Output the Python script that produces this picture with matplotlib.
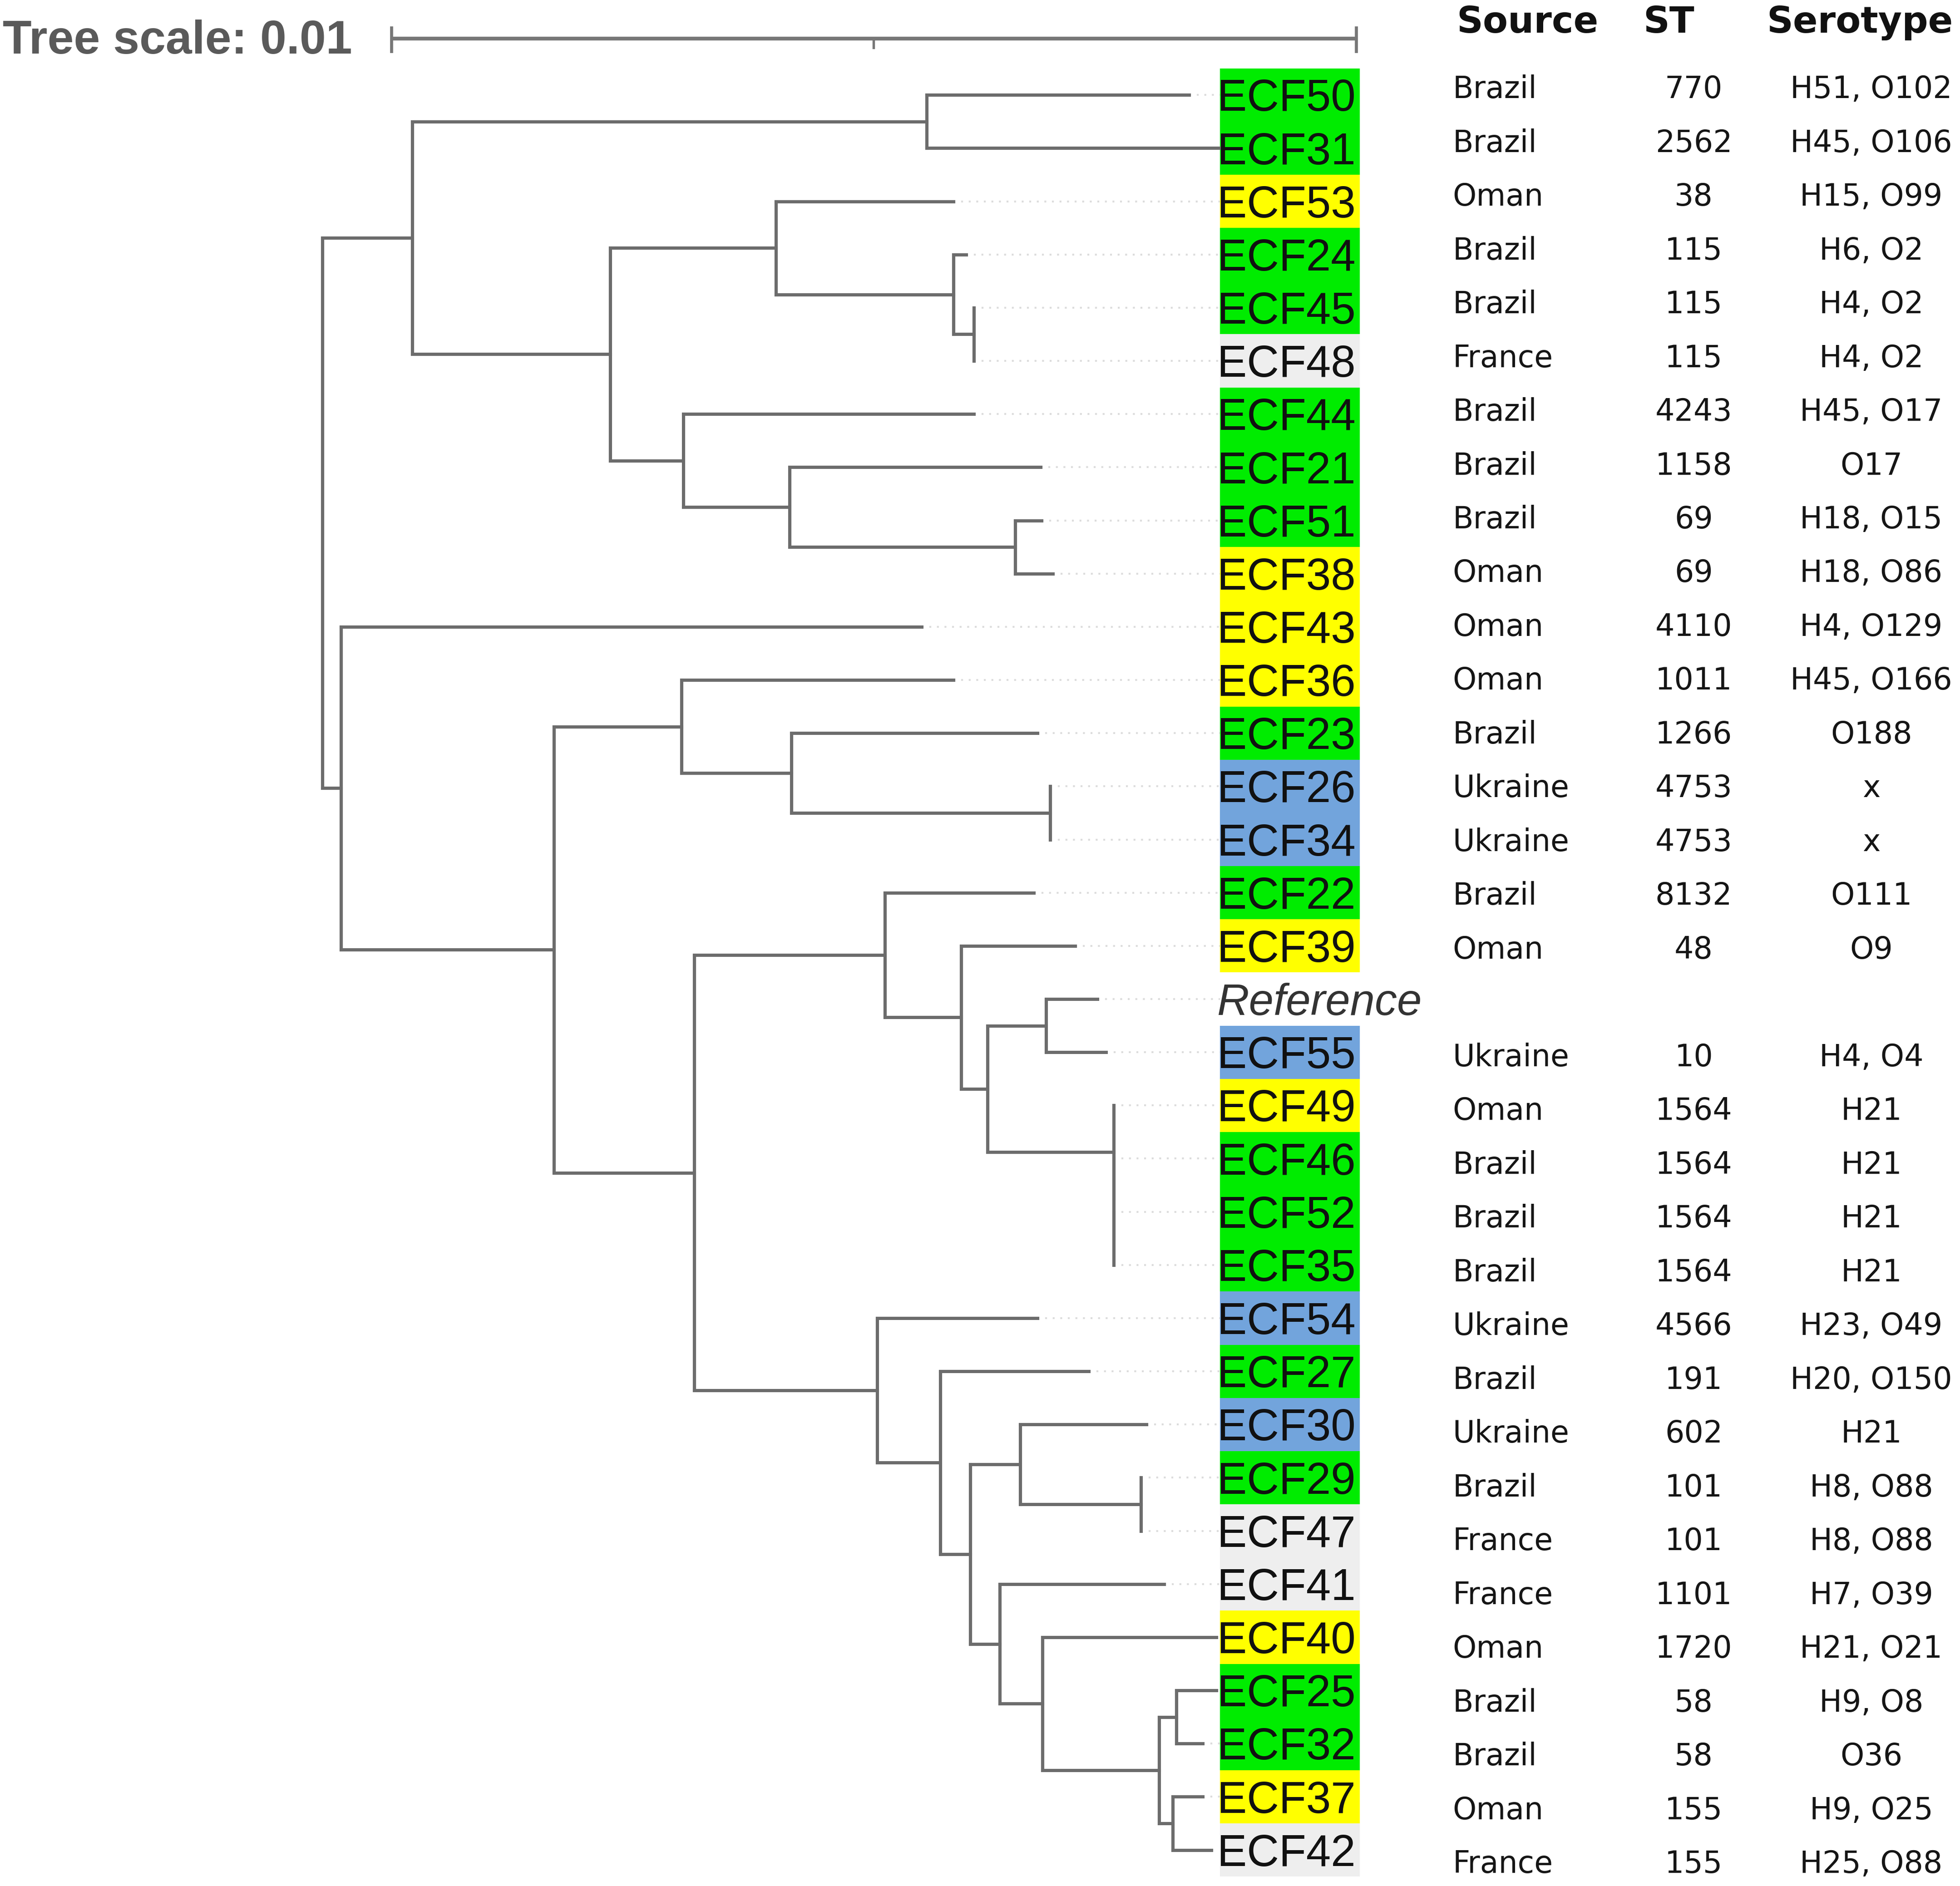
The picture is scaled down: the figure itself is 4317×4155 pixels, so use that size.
import matplotlib
matplotlib.use("Agg")
import matplotlib.pyplot as plt
from matplotlib.collections import LineCollection

# ---------------- data ----------------
# leaves, top to bottom
leaves = ["ECF50", "ECF31", "ECF53", "ECF24", "ECF45", "ECF48", "ECF44", "ECF21",
          "ECF51", "ECF38", "ECF43", "ECF36", "ECF23", "ECF26", "ECF34", "ECF22",
          "ECF39", "Reference", "ECF55", "ECF49", "ECF46", "ECF52", "ECF35", "ECF54",
          "ECF27", "ECF30", "ECF29", "ECF47", "ECF41", "ECF40", "ECF25", "ECF32",
          "ECF37", "ECF42"]

# distance of each tip from the root (substitutions / site)
tip_depth = [0.00898, 0.00929, 0.00654, 0.00667, 0.00675, 0.00675, 0.00675, 0.00744,
             0.00745, 0.00757, 0.00621, 0.00654, 0.00741, 0.00754, 0.00754, 0.00737,
             0.00780, 0.00803, 0.00812, 0.00820, 0.00820, 0.00820, 0.00820, 0.00741,
             0.00794, 0.00854, 0.00848, 0.00848, 0.00872, 0.00926, 0.00926, 0.00912,
             0.00912, 0.00921]

source = ["Brazil", "Brazil", "Oman", "Brazil", "Brazil", "France", "Brazil", "Brazil",
          "Brazil", "Oman", "Oman", "Oman", "Brazil", "Ukraine", "Ukraine", "Brazil",
          "Oman", "", "Ukraine", "Oman", "Brazil", "Brazil", "Brazil", "Ukraine",
          "Brazil", "Ukraine", "Brazil", "France", "France", "Oman", "Brazil", "Brazil",
          "Oman", "France"]

st = ["770", "2562", "38", "115", "115", "115", "4243", "1158", "69", "69", "4110",
      "1011", "1266", "4753", "4753", "8132", "48", "", "10", "1564", "1564", "1564",
      "1564", "4566", "191", "602", "101", "101", "1101", "1720", "58", "58", "155", "155"]

serotype = ["H51, O102", "H45, O106", "H15, O99", "H6, O2", "H4, O2", "H4, O2",
            "H45, O17", "O17", "H18, O15", "H18, O86", "H4, O129", "H45, O166", "O188",
            "x", "x", "O111", "O9", "", "H4, O4", "H21", "H21", "H21", "H21", "H23, O49",
            "H20, O150", "H21", "H8, O88", "H8, O88", "H7, O39", "H21, O21", "H9, O8",
            "O36", "H9, O25", "H25, O88"]

# internal nodes: children and depth from root
children = {
    "root": ["A", "B"],
    "A": ["A1", "A2"],
    "A1": ["ECF50", "ECF31"],
    "A2": ["A2a", "A2b"],
    "A2a": ["ECF53", "N24"],
    "N24": ["ECF24", "N45"],
    "N45": ["ECF45", "ECF48"],
    "A2b": ["ECF44", "A2c"],
    "A2c": ["ECF21", "N51"],
    "N51": ["ECF51", "ECF38"],
    "B": ["ECF43", "C"],
    "C": ["C1", "C2"],
    "C1": ["ECF36", "C1b"],
    "C1b": ["ECF23", "N26"],
    "N26": ["ECF26", "ECF34"],
    "C2": ["D", "E"],
    "D": ["ECF22", "D2"],
    "D2": ["ECF39", "D3"],
    "D3": ["D4", "D5"],
    "D4": ["Reference", "ECF55"],
    "D5": ["ECF49", "D6"],
    "D6": ["ECF46", "D7"],
    "D7": ["ECF52", "ECF35"],
    "E": ["ECF54", "E2"],
    "E2": ["ECF27", "E3"],
    "E3": ["F", "G"],
    "F": ["ECF30", "N29"],
    "N29": ["ECF29", "ECF47"],
    "G": ["ECF41", "H"],
    "H": ["ECF40", "I"],
    "I": ["J", "K"],
    "J": ["ECF25", "ECF32"],
    "K": ["ECF37", "ECF42"],
}

node_depth = {
    "root": 0.0, "A": 0.00093, "A1": 0.00626, "A2": 0.00298, "A2a": 0.00470,
    "N24": 0.00654, "N45": 0.00675, "A2b": 0.00374, "A2c": 0.00484, "N51": 0.00718,
    "B": 0.00019, "C": 0.00240, "C1": 0.00372, "C1b": 0.00486, "N26": 0.00754,
    "C2": 0.00385, "D": 0.00583, "D2": 0.00662, "D3": 0.00689, "D4": 0.00750,
    "D5": 0.00820, "D6": 0.00820, "D7": 0.00820, "E": 0.00575, "E2": 0.00640,
    "E3": 0.00671, "F": 0.00723, "N29": 0.00848, "G": 0.00702, "H": 0.00746,
    "I": 0.00867, "J": 0.00885, "K": 0.00881,
}

source_colors = {"Brazil": "#00ec00", "Oman": "#ffff00", "Ukraine": "#72a4dc",
                 "France": "#eeeeee"}

tree_scale = 0.01
columns = ["Source", "ST", "Serotype"]

# ---------------- layout (in a 1568 x 1509 reference grid) ----------------
REF_W, REF_H = 1568, 1509
ROOT_X = 258
PX_PER_UNIT = 772 / tree_scale
ROW0_Y, ROW_PITCH = 76, 42.55
BOX_X0, BOX_X1 = 976, 1088


def px2u(x):
    return (x - ROOT_X) / PX_PER_UNIT


def y2row(y):
    return (y - ROW0_Y) / ROW_PITCH


fig = plt.figure(figsize=(4317 / 300, 4155 / 300), dpi=300)
ax = fig.add_axes([0, 0, 1, 1])
ax.set_xlim(px2u(0), px2u(REF_W))
ax.set_ylim(y2row(REF_H), y2row(0))
ax.axis("off")

# ---------------- tree ----------------
depth = dict(node_depth)
ypos = {}
for i, name in enumerate(leaves):
    depth[name] = tip_depth[i]
    ypos[name] = i


def place(node):
    if node in ypos:
        return ypos[node]
    ys = [place(c) for c in children[node]]
    ypos[node] = (ys[0] + ys[-1]) / 2
    return ypos[node]


place("root")

segs = []
for node, kids in children.items():
    x0 = depth[node]
    ys = [ypos[k] for k in kids]
    segs.append([(x0, min(ys)), (x0, max(ys))])
    for k in kids:
        segs.append([(x0, ypos[k]), (depth[k], ypos[k])])

ax.add_collection(LineCollection(segs, colors="#6c6c6c", linewidths=1.7,
                                 capstyle="projecting", zorder=3))

# dotted leaders from tips to labels
box_left = px2u(BOX_X0)
box_w = px2u(BOX_X1) - box_left
for i, name in enumerate(leaves):
    if box_left - tip_depth[i] > 0.0001:
        ax.plot([tip_depth[i] + 0.00008, box_left], [i, i], color="#dcdcdc",
                lw=1.0, ls=(0, (1, 3)), zorder=1)

# coloured label boxes
rows = list(range(len(leaves)))
box_cols = [source_colors.get(s, "none") for s in source]
ax.barh(rows, [box_w if s else 0 for s in source], left=box_left, height=1.0,
        color=box_cols, edgecolor="none", zorder=2)

for i, name in enumerate(leaves):
    if name == "Reference":
        ax.text(box_left - 0.00003, i + 0.3, name, fontsize=23.5, style="italic",
                family="Liberation Sans", color="#333333", va="baseline", zorder=4)
    else:
        ax.text(box_left - 0.00003, i + 0.3, name, fontsize=23.5,
                family="Liberation Sans", color="#111111", va="baseline", zorder=4)

# scale bar
sb_y = y2row(31)
sb_x0 = px2u(313)
ax.plot([sb_x0, sb_x0 + tree_scale], [sb_y, sb_y], color="#777777", lw=2.0,
        solid_capstyle="butt")
for xx in (sb_x0, sb_x0 + tree_scale):
    ax.plot([xx, xx], [y2row(22), y2row(41)], color="#777777", lw=1.6)
ax.plot([sb_x0 + tree_scale / 2] * 2, [sb_y, y2row(38)], color="#777777", lw=1.3)
ax.text(px2u(2), y2row(43), "Tree scale: %g" % tree_scale, fontsize=25,
        family="Liberation Sans", weight="bold", color="#5a5a5a", va="baseline")

# ---------------- metadata table ----------------
tab = fig.add_axes([0, 0, 1, 1])
tab.patch.set_alpha(0)
tab.set_xlim(0, REF_W)
tab.set_ylim(REF_H, 0)
tab.axis("off")

head_x = [1222, 1335, 1488]
for hx, h in zip(head_x, columns):
    tab.text(hx, 26, h, fontsize=19.3, weight="bold", family="DejaVu Sans",
             ha="center", va="baseline", color="#111111")

for i in range(len(leaves)):
    yy = 70 + i * 43.03 + 8.5
    tab.text(1162, yy, source[i], fontsize=16, ha="left", va="baseline",
             color="#151515")
    tab.text(1355, yy, st[i], fontsize=16, ha="center", va="baseline",
             color="#151515")
    tab.text(1497, yy, serotype[i], fontsize=16, ha="center", va="baseline",
             color="#151515")

fig.savefig("out.png", dpi=300)
